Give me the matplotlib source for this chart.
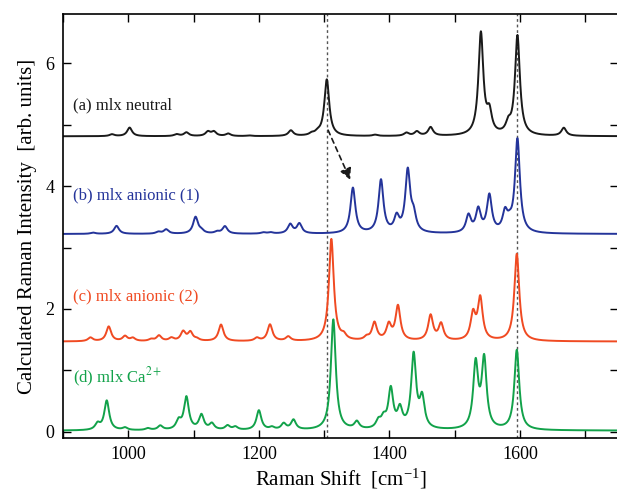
import numpy as np
import matplotlib
matplotlib.use("Agg")
import matplotlib.pyplot as plt
from matplotlib.ticker import MultipleLocator

plt.rcParams['font.family'] = ['Liberation Serif', 'DejaVu Serif']
plt.rcParams['mathtext.fontset'] = 'stix'

# calculated Raman lines: position [cm-1], peak height [arb. units]
neutral_pos = [975, 1002, 1074, 1089, 1122, 1131, 1153, 1185, 1249, 1281, 1290,
               1304, 1378, 1426, 1442, 1463, 1540, 1553, 1582, 1596, 1667]
neutral_amp = [0.03, 0.14, 0.03, 0.06, 0.07, 0.07, 0.04, 0.01, 0.09, 0.03, 0.04,
               0.92, 0.02, 0.05, 0.07, 0.14, 1.66, 0.33, 0.15, 1.62, 0.13]

anion1_pos = [946, 982, 1046, 1058, 1103, 1112, 1136, 1148, 1207, 1218, 1248, 1262,
              1344, 1387, 1411, 1428, 1437, 1521, 1536, 1553, 1577, 1584, 1596]
anion1_amp = [0.02, 0.13, 0.03, 0.07, 0.27, 0.04, 0.03, 0.12, 0.02, 0.02, 0.15, 0.16,
              0.74, 0.86, 0.24, 1.0, 0.25, 0.28, 0.37, 0.6, 0.3, 0.1, 1.52]

anion2_pos = [942, 970, 995, 1007, 1035, 1047, 1066, 1084, 1095, 1105, 1142, 1197,
              1217, 1245, 1311, 1330, 1365, 1377, 1399, 1413, 1463, 1479, 1528,
              1539, 1595]
anion2_amp = [0.06, 0.24, 0.08, 0.05, 0.03, 0.09, 0.05, 0.15, 0.14, 0.03, 0.27, 0.05,
              0.27, 0.07, 1.66, 0.07, 0.05, 0.29, 0.25, 0.56, 0.41, 0.27, 0.42,
              0.68, 1.42]

calcium_pos = [953, 967, 995, 1030, 1049, 1077, 1089, 1112, 1128, 1152, 1164, 1200,
               1220, 1238, 1253, 1314, 1350, 1383, 1391, 1402, 1416, 1437, 1450,
               1532, 1545, 1595]
calcium_amp = [0.1, 0.48, 0.04, 0.03, 0.07, 0.14, 0.53, 0.24, 0.1, 0.07, 0.05, 0.32,
               0.04, 0.1, 0.16, 1.8, 0.12, 0.12, 0.15, 0.64, 0.3, 1.2, 0.48,
               1.05, 1.12, 1.3]

offsets = [4.81, 3.22, 1.47, 0.02]
labels = ['(a) mlx neutral', '(b) mlx anionic (1)', '(c) mlx anionic (2)',
          '(d) mlx Ca$^{2+}$']
label_y = [5.32, 3.84, 2.21, 0.88]
colors = ['#1a1a1a', '#24349a', '#f04a22', '#12a24a']

marker_lines = [1304, 1596]
hwhm = 4.5

x = np.linspace(900, 1750, 3401)


def spectrum(pos, amp):
    y = np.zeros_like(x)
    for p, a in zip(pos, amp):
        y += a * hwhm**2 / ((x - p)**2 + hwhm**2)
    return y


fig = plt.figure(figsize=(6.17, 4.91), dpi=100)
ax = fig.add_axes([63 / 617, 1 - 438 / 491, (618 - 63) / 617, (438 - 14) / 491])

spectra = [(neutral_pos, neutral_amp), (anion1_pos, anion1_amp),
           (anion2_pos, anion2_amp), (calcium_pos, calcium_amp)]
for (pos, amp), off, lab, ly, c in zip(spectra, offsets, labels, label_y, colors):
    ax.plot(x, spectrum(pos, amp) + off, color=c, lw=1.4)
    ax.text(916, ly, lab, color=c, fontsize=12, va='center')

for xv in marker_lines:
    ax.axvline(xv, color='#555555', lw=1.0, ls=(0, (2, 2)), zorder=0)

# shift of the 1304 cm-1 mode on reduction
ax.annotate('', xy=(1340, 4.10), xytext=(1306, 4.91),
            arrowprops=dict(arrowstyle='-|>', color='#1a1a1a', lw=1.2,
                            ls=(0, (3, 2.5)), mutation_scale=17,
                            shrinkA=0, shrinkB=0))

ax.set_xlim(900, 1750)
ax.set_ylim(-0.1, 6.8)
ax.xaxis.set_major_locator(MultipleLocator(200))
ax.xaxis.set_minor_locator(MultipleLocator(100))
ax.yaxis.set_major_locator(MultipleLocator(2))
ax.yaxis.set_minor_locator(MultipleLocator(1))
ax.tick_params(which='both', direction='in', top=True, right=True,
               length=6, width=1.0, labelsize=13, pad=6)
for s in ax.spines.values():
    s.set_linewidth(1.2)

ax.set_xlabel('Raman Shift  [cm$^{\\mathregular{-1}}$]', fontsize=15, labelpad=2)
ax.set_ylabel('Calculated Raman Intensity  [arb. units]', fontsize=15, labelpad=6)

fig.savefig('out.png', dpi=100)
